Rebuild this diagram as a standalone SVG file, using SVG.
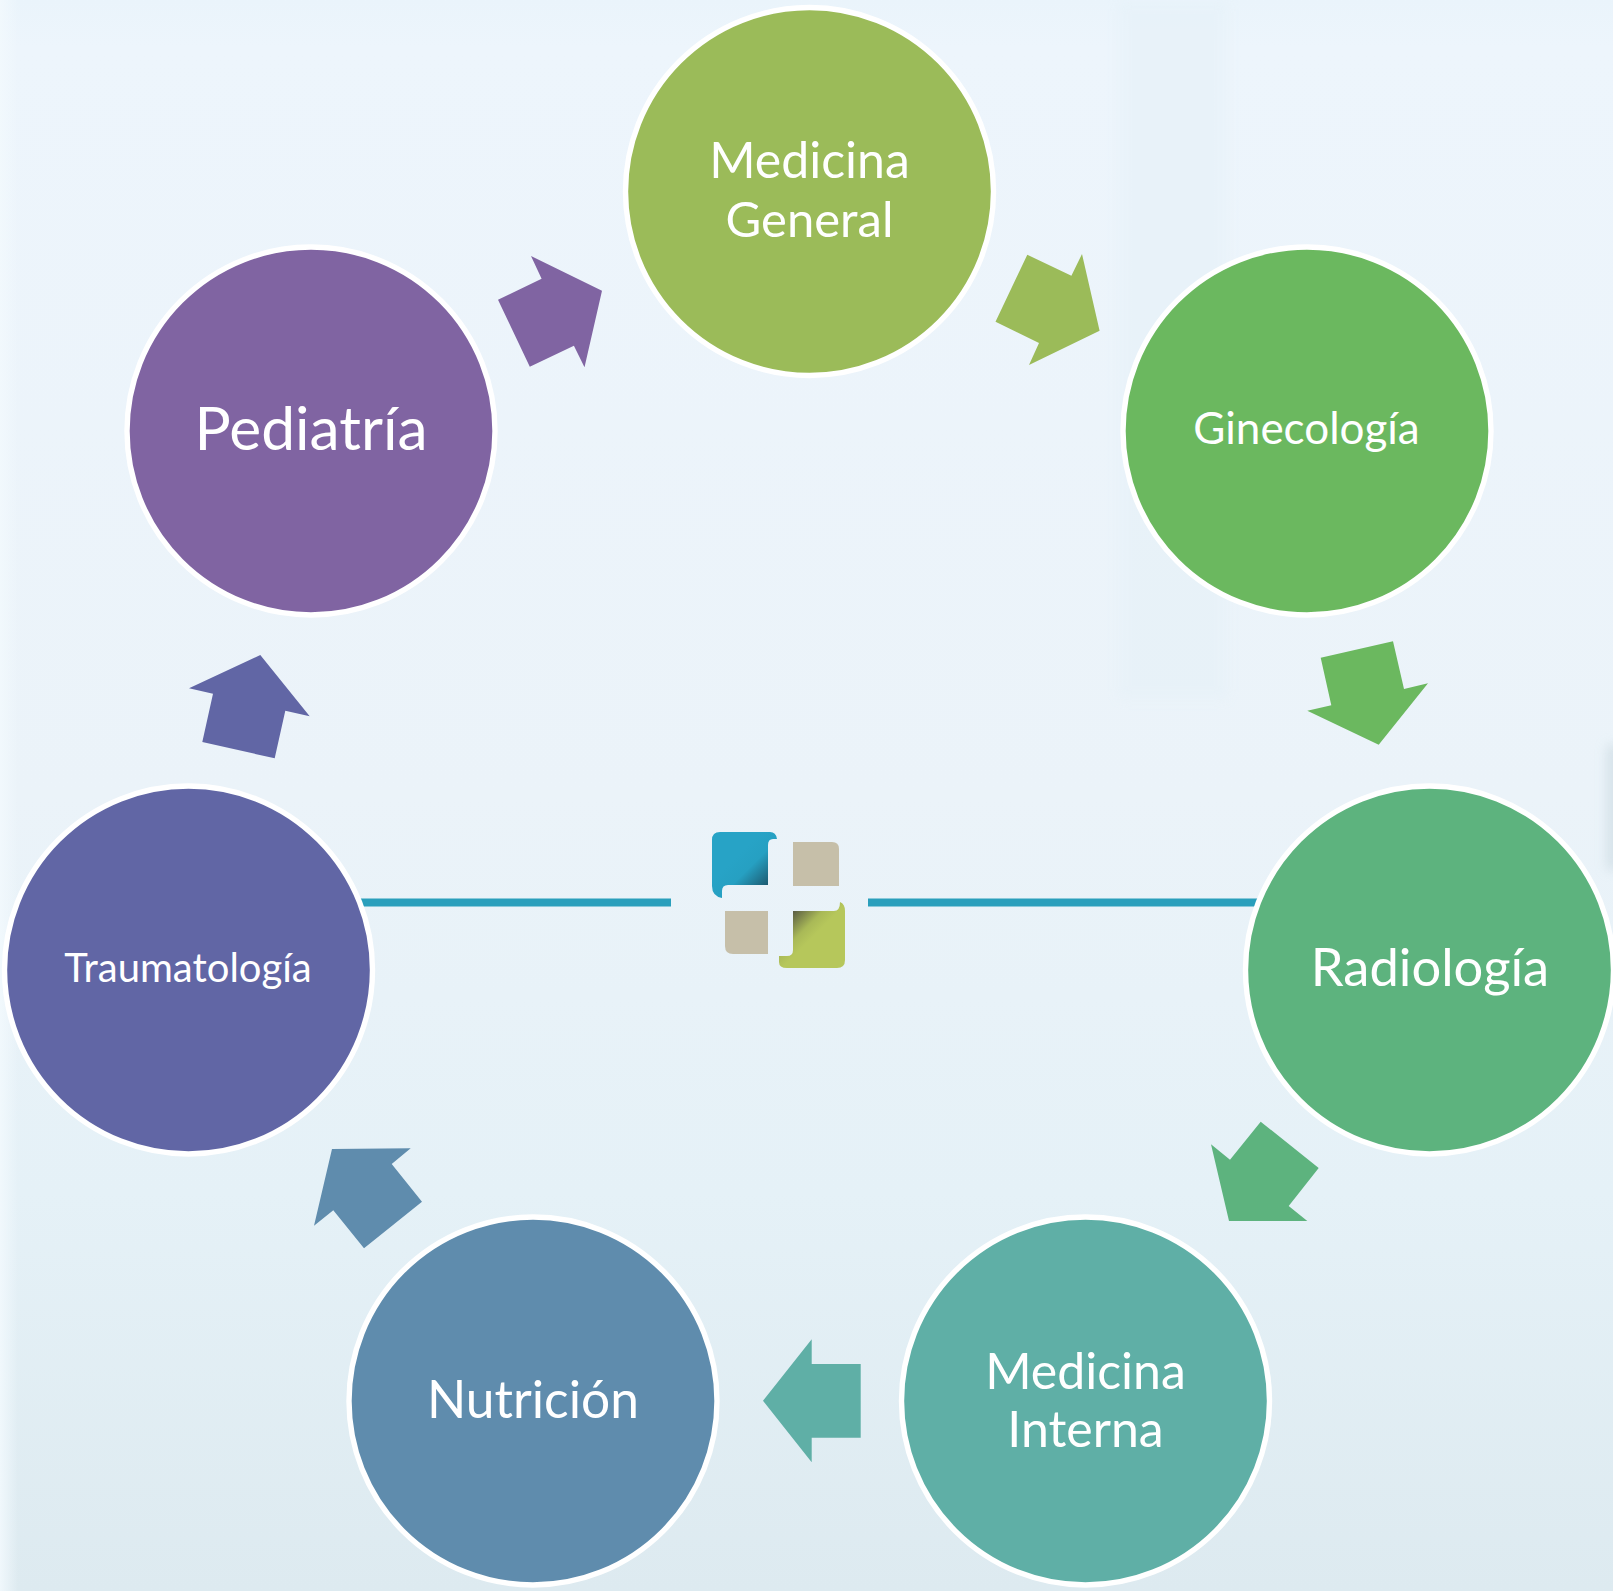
<svg xmlns="http://www.w3.org/2000/svg" width="1613" height="1591" viewBox="0 0 1613 1591">
<style>
.c{stroke:#fff;stroke-width:5.4}
.t{font-family:"Lato","Open Sans",sans-serif;fill:#fff;text-anchor:middle}
.line{stroke:#2a9fbc;stroke-width:8;fill:none}
</style>
<defs>
<linearGradient id="bg" x1="0" y1="0" x2="0" y2="1">
<stop offset="0" stop-color="#eaf4fb"/><stop offset="0.03" stop-color="#edf5fc"/><stop offset="0.5" stop-color="#ebf3f9"/><stop offset="0.75" stop-color="#e5f1f7"/><stop offset="1" stop-color="#ddeaf0"/>
</linearGradient>
<linearGradient id="lb" x1="0" y1="0" x2="1" y2="0">
<stop offset="0" stop-color="#f2f9fd" stop-opacity="0.9"/><stop offset="1" stop-color="#f2f9fd" stop-opacity="0"/>
</linearGradient>
<linearGradient id="bl" gradientUnits="userSpaceOnUse" x1="738" y1="855" x2="768" y2="885">
<stop offset="0" stop-color="#27a3c6"/><stop offset="0.4" stop-color="#26a0c2"/><stop offset="1" stop-color="#1d5a70"/>
</linearGradient>
<linearGradient id="gr" gradientUnits="userSpaceOnUse" x1="793" y1="911" x2="816" y2="934">
<stop offset="0" stop-color="#5a5c44"/><stop offset="0.65" stop-color="#a9b957"/><stop offset="1" stop-color="#b6c75b"/>
</linearGradient>
<filter id="b" x="-200%" y="-30%" width="500%" height="160%"><feGaussianBlur stdDeviation="6"/></filter>
</defs>
<g id="background">
<rect width="1613" height="1591" fill="url(#bg)"/>
<rect width="18" height="1591" fill="url(#lb)"/>
<rect x="1118" y="0" width="110" height="700" fill="#e4f0f7" opacity="0.45" filter="url(#b)"/>
<rect x="1607" y="745" width="14" height="125" fill="#cfdde4" opacity="0.8" filter="url(#b)"/>
</g>
<g id="connectors">
<line class="line" x1="350" y1="902.5" x2="671" y2="902.5"/>
<line class="line" x1="868" y1="902.5" x2="1270" y2="902.5"/>
<polygon fill="#9bbb59" points="1027.3,254.7 1071.4,275.7 1082,254 1099.6,330.7 1029,365 1039,343 995.5,321.7"/>
<polygon fill="#6bb85f" points="1320.7,657.7 1393,641.3 1404,689 1428,683.3 1378.7,744.7 1307.3,710.7 1331.3,705.3"/>
<polygon fill="#5db37e" points="1260.7,1121.7 1318.7,1168 1288.7,1206 1307.3,1221 1229,1221 1211,1144.3 1230,1159.7"/>
<polygon fill="#5fafa6" points="860.7,1364 860.7,1437.7 811.7,1437.7 811.7,1462.3 763,1400.7 811.7,1339.3 811.7,1364"/>
<polygon fill="#5f8cad" points="422,1201.7 364,1248.3 333.3,1210.3 314,1225.7 332,1149 410.7,1148.3 391.7,1164"/>
<polygon fill="#6166a5" points="202.3,742 213,693.7 189,688.3 260.3,655 309.7,716.3 285.3,710.7 274.7,758.3"/>
<polygon fill="#8064a2" points="531,256 602,290.7 584.5,367.3 573.9,345.7 529.8,366.7 498,299.7 541.6,278.7"/>
</g>
<g id="logo">
<path fill="url(#bl)" d="M720 832H770Q776 832 777 839H773Q768 839 768 845V885H728Q722 885 722 891V898Q712 896 712 886V840Q712 832 720 832Z"/>
<path fill="#c6bfa9" d="M793 842H832Q839 842 839 849V886H793Z"/>
<path fill="#c6bfa9" d="M725 911H768V954H733Q725 954 725 946Z"/>
<path fill="url(#gr)" d="M793 911H834Q840 911 840 902Q845 904 845 911V960Q845 968 837 968H787Q779 968 779 962V956H787Q793 956 793 950Z"/>
</g>
<g id="node-medicina-general">
<circle class="c" cx="809.5" cy="191.5" r="184" fill="#9bbb59"/>
<text class="t" x="809.5" y="178" font-size="50">Medicina</text>
<text class="t" x="809.5" y="236.5" font-size="49">General</text>
</g>
<g id="node-ginecologia">
<circle class="c" cx="1307" cy="431" r="184" fill="#6bb85f"/>
<text class="t" x="1306.5" y="444" font-size="44">Ginecología</text>
</g>
<g id="node-radiologia">
<circle class="c" cx="1429.5" cy="970" r="184" fill="#5db37e"/>
<text class="t" x="1430" y="986" font-size="52.5">Radiología</text>
</g>
<g id="node-medicina-interna">
<circle class="c" cx="1085.5" cy="1401" r="184" fill="#5fafa6"/>
<text class="t" x="1085.5" y="1388.5" font-size="50">Medicina</text>
<text class="t" x="1085.5" y="1447" font-size="50">Interna</text>
</g>
<g id="node-nutricion">
<circle class="c" cx="533" cy="1401" r="184" fill="#5f8cad"/>
<text class="t" x="533" y="1418" font-size="51.5">Nutrición</text>
</g>
<g id="node-traumatologia">
<circle class="c" cx="188.5" cy="970" r="184" fill="#6166a5"/>
<text class="t" x="188" y="982" font-size="40">Traumatología</text>
</g>
<g id="node-pediatria">
<circle class="c" cx="311" cy="431" r="184" fill="#8064a2"/>
<text class="t" x="311" y="449.5" font-size="60.5">Pediatría</text>
</g>
</svg>
